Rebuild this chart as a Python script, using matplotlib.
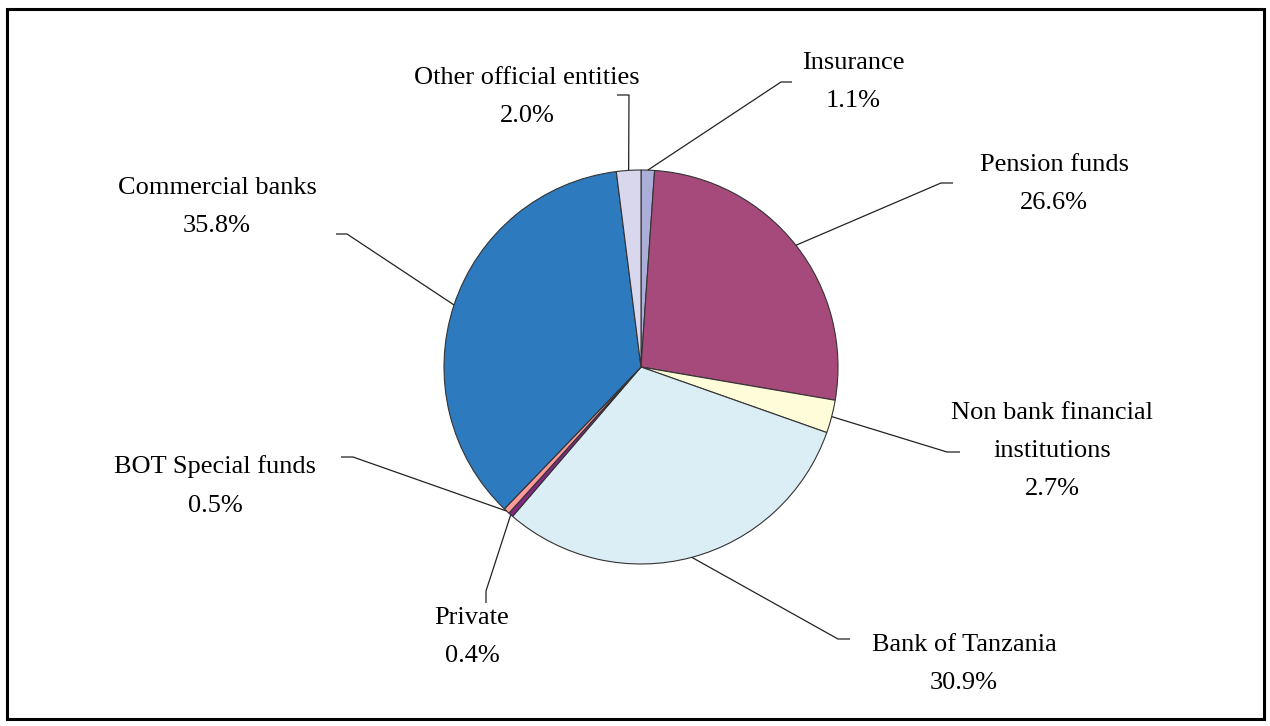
import numpy as np
import matplotlib
matplotlib.use("Agg")
import matplotlib.pyplot as plt
from matplotlib.patches import Rectangle

# ---- data (clockwise from 12 o'clock) ----
categories = ["Insurance", "Pension funds", "Non bank financial\ninstitutions",
              "Bank of Tanzania", "Private", "BOT Special funds",
              "Commercial banks", "Other official entities"]
shares = [1.1, 26.6, 2.7, 30.9, 0.4, 0.5, 35.8, 2.0]
colors = ["#AAAED8", "#A64A7B", "#FFFCD9", "#DBEEF6", "#7F2A80", "#FF9A9A",
          "#2E7ABE", "#D9D7EE"]

# ---- layout (pixel coordinates, origin top-left) ----
W, H = 1270, 726
cx, cy, R = 641, 367, 197
# (elbow point, end point, text centre) for each label
label_layout = [
    ((781, 82), (792, 82), (853, 82)),
    ((941, 183), (953, 183), (1054, 184)),
    ((947, 452), (960, 452), (1052, 451)),
    ((838, 639), (850, 639), (964, 664)),
    ((486, 591), (486, 603), (472, 637)),
    ((353, 457), (341, 457), (215, 486)),
    ((347, 234), (336, 234), (217, 207)),
    ((629, 95), (617, 95), (527, 97)),
]

def Y(py):
    return H - py

fig = plt.figure(figsize=(W / 100, H / 100), dpi=100)
ax = fig.add_axes([0, 0, 1, 1])

wedges, _ = ax.pie(shares, colors=colors, startangle=90, counterclock=False,
                   center=(cx, Y(cy)), radius=R,
                   wedgeprops=dict(edgecolor="#333333", linewidth=0.8))
ax.set_xlim(0, W)
ax.set_ylim(0, H)
ax.set_aspect("auto")
ax.axis("off")

font = dict(family="Liberation Serif", size=19, color="black")
for w, cat, val, (elb, end, tc) in zip(wedges, categories, shares, label_layout):
    mid = np.deg2rad((w.theta1 + w.theta2) / 2)
    sx = cx + R * np.cos(mid)
    sy = Y(cy) + R * np.sin(mid)
    ax.plot([sx, elb[0], end[0]], [sy, Y(elb[1]), Y(end[1])],
            color="#222222", linewidth=0.9, solid_capstyle="butt")
    ax.text(tc[0], Y(tc[1]), f"{cat}\n{val:.1f}%", ha="center", va="center",
            linespacing=1.95, **font)

# outer frame
fig.patches.append(Rectangle((7 / W, 1 - 719 / H), (1264 - 7) / W, (719 - 9) / H,
                             transform=fig.transFigure, fill=False,
                             edgecolor="black", linewidth=2.2))

fig.savefig("out.png", dpi=100, facecolor="white")
